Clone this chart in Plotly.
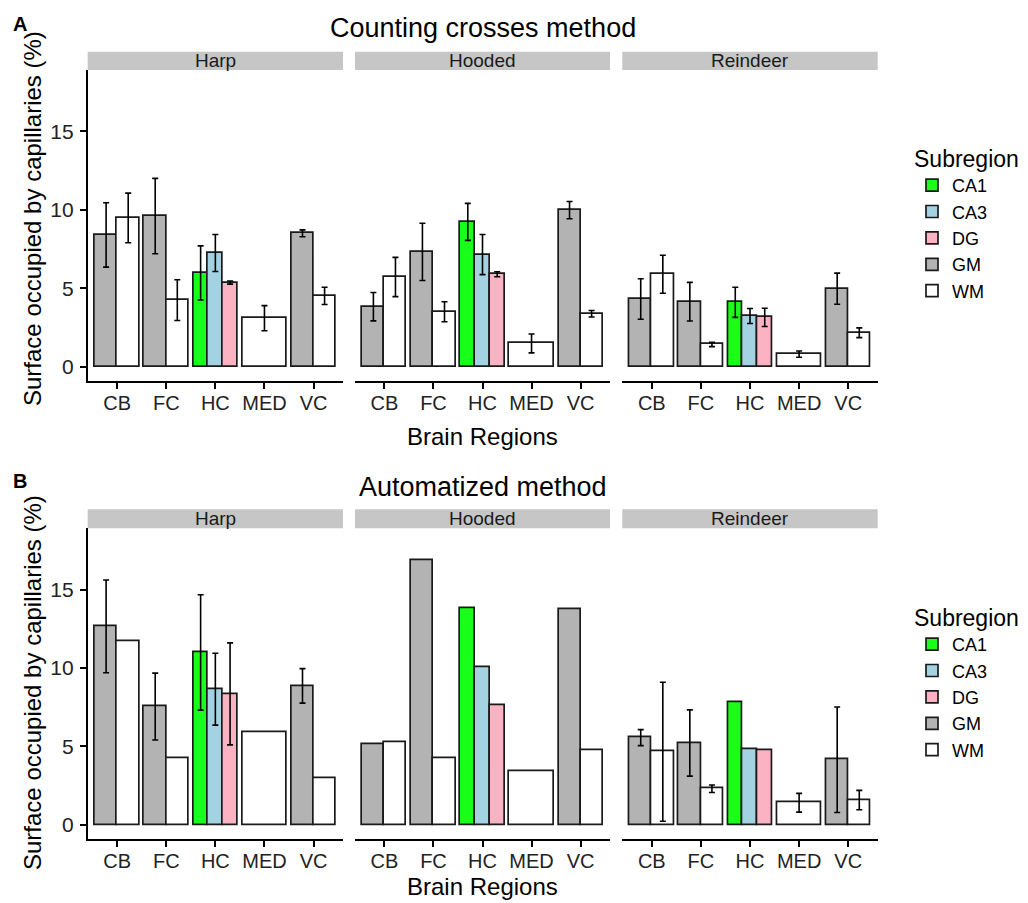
import plotly.graph_objects as go

# ---------------- data ----------------
regions = ["CB", "FC", "HC", "MED", "VC"]
species = ["Harp", "Hooded", "Reindeer"]
subregions = ["CA1", "CA3", "DG", "GM", "WM"]
methods = ["Counting crosses method", "Automatized method"]
panel_letters = ["A", "B"]

bar_region = ["CB", "CB", "FC", "FC", "HC", "HC", "HC", "MED", "VC", "VC"]
bar_subregion = ["GM", "WM", "GM", "WM", "CA1", "CA3", "DG", "WM", "GM", "WM"]

# Counting crosses method
crosses_harp_mean = [8.40, 9.48, 9.60, 4.25, 5.98, 7.25, 5.37, 3.10, 8.50, 4.52]
crosses_harp_err = [2.05, 1.58, 2.40, 1.30, 1.72, 1.18, 0.10, 0.80, 0.22, 0.55]
crosses_hooded_mean = [3.83, 5.72, 7.32, 3.51, 9.23, 7.15, 5.90, 1.49, 9.98, 3.38]
crosses_hooded_err = [0.90, 1.25, 1.82, 0.64, 1.18, 1.28, 0.16, 0.60, 0.55, 0.21]
crosses_reindeer_mean = [4.32, 5.90, 4.15, 1.43, 4.11, 3.24, 3.15, 0.81, 4.98, 2.17]
crosses_reindeer_err = [1.29, 1.21, 1.23, 0.14, 0.96, 0.48, 0.58, 0.20, 0.99, 0.31]

# Automatized method
auto_harp_mean = [12.65, 11.69, 7.54, 4.24, 10.99, 8.65, 8.35, 5.88, 8.86, 2.96]
auto_harp_err = [2.96, None, 2.13, None, 3.68, 2.29, 3.25, None, 1.10, None]
auto_hooded_mean = [5.16, 5.24, 16.87, 4.24, 13.80, 10.06, 7.63, 3.39, 13.74, 4.77]
auto_hooded_err = [None, None, None, None, None, None, None, None, None, None]
auto_reindeer_mean = [5.56, 4.66, 5.22, 2.30, 7.84, 4.82, 4.73, 1.41, 4.15, 1.58]
auto_reindeer_err = [0.51, 4.43, 2.11, 0.24, None, None, None, 0.60, 3.36, 0.62]

y_ticks = [0, 5, 10, 15]

means = [[crosses_harp_mean, crosses_hooded_mean, crosses_reindeer_mean],
         [auto_harp_mean, auto_hooded_mean, auto_reindeer_mean]]
errs = [[crosses_harp_err, crosses_hooded_err, crosses_reindeer_err],
        [auto_harp_err, auto_hooded_err, auto_reindeer_err]]

# ---------------- style ----------------
fills = {"CA1": "#1AFF1A", "CA3": "#A3D3E2", "DG": "#FBB3C3", "GM": "#B3B3B3", "WM": "#FFFFFF"}
FONT = "Liberation Sans, Arial, sans-serif"
W, H = 1028, 903
DODGE = 0.9


def fx(p):
    return p / W


def fy(p):
    return 1 - p / H


col_px = [(87.7, 343.0), (355.0, 610.0), (622.3, 877.7)]
row_px = [(70.0, 381.0), (528.3, 839.0)]
strip_px = [(51.7, 70.0), (509.3, 528.3)]

# dodge positions computed from data
bar_x, bar_w = [], []
for i, (reg, sub) in enumerate(zip(bar_region, bar_subregion)):
    group = [j for j, r in enumerate(bar_region) if r == reg]
    n = len(group)
    k = group.index(i)
    w = DODGE / n
    bar_x.append(regions.index(reg) + 1 - DODGE / 2 + w * (k + 0.5))
    bar_w.append(w)

fig = go.Figure()
layout = {}
shapes, annotations = [], []

for r in range(2):
    for c in range(3):
        idx = r * 3 + c + 1
        xn = "x" if idx == 1 else f"x{idx}"
        yn = "y" if idx == 1 else f"y{idx}"
        xkey = "xaxis" if idx == 1 else f"xaxis{idx}"
        ykey = "yaxis" if idx == 1 else f"yaxis{idx}"
        layout[xkey] = dict(
            domain=[fx(col_px[c][0]), fx(col_px[c][1])], anchor=yn,
            range=[0.4, 5.6], tickmode="array", tickvals=list(range(1, len(regions) + 1)),
            ticktext=regions, showline=True, linecolor="black", linewidth=1.8,
            ticks="outside", ticklen=6, tickwidth=1.8, tickcolor="black",
            ticklabelstandoff=-3,
            showgrid=False, zeroline=False, fixedrange=True,
            tickfont=dict(family=FONT, size=20, color="#222222"))
        ycfg = dict(domain=[fy(row_px[r][1]), fy(row_px[r][0])], anchor=xn,
                    range=[-0.9, 18.9], showgrid=False, zeroline=False, fixedrange=True)
        if c == 0:
            ycfg.update(showline=True, linecolor="black", linewidth=1.8, ticks="outside",
                        ticklen=6, tickwidth=1.8, tickcolor="black", tickmode="array",
                        ticklabelstandoff=2,
                        tickvals=y_ticks, tickfont=dict(family=FONT, size=21, color="#222222"))
        else:
            ycfg.update(showline=False, showticklabels=False, ticks="")
        layout[ykey] = ycfg

        for sub in subregions:
            ids = [i for i, s in enumerate(bar_subregion) if s == sub]
            fig.add_trace(go.Bar(
                x=[bar_x[i] for i in ids],
                y=[means[r][c][i] for i in ids],
                width=[bar_w[i] for i in ids],
                xaxis=xn, yaxis=yn,
                name=sub, legendgroup=f"{r}-{sub}",
                legend="legend" if r == 0 else "legend2",
                showlegend=(c == 0),
                marker=dict(color=fills[sub], line=dict(color="#1a1a1a", width=1.7)),
            ))

        # error bars (only where an error value exists)
        eids = [i for i in range(len(bar_region)) if errs[r][c][i] is not None]
        if eids:
            fig.add_trace(go.Scatter(
                x=[bar_x[i] for i in eids],
                y=[means[r][c][i] for i in eids],
                xaxis=xn, yaxis=yn, mode="markers",
                marker=dict(size=1, opacity=0),
                showlegend=False, hoverinfo="skip",
                error_y=dict(type="data", array=[errs[r][c][i] for i in eids], visible=True,
                             color="black", thickness=1.6, width=3),
            ))

        # facet strip
        shapes.append(dict(type="rect", xref="paper", yref="paper",
                           x0=fx(col_px[c][0]), x1=fx(col_px[c][1]),
                           y0=fy(strip_px[r][1]), y1=fy(strip_px[r][0]),
                           fillcolor="#C6C6C6", line=dict(width=0), layer="below"))
        annotations.append(dict(text=species[c], xref="paper", yref="paper",
                                x=fx((col_px[c][0] + col_px[c][1]) / 2),
                                y=fy((strip_px[r][0] + strip_px[r][1]) / 2),
                                showarrow=False, xanchor="center", yanchor="middle",
                                font=dict(family=FONT, size=19, color="#1a1a1a")))

    mid_x = (col_px[0][0] + col_px[2][1]) / 2
    title_y = [28, 487][r]
    annotations.append(dict(text=methods[r], xref="paper", yref="paper", x=fx(mid_x), y=fy(title_y),
                            showarrow=False, xanchor="center", yanchor="middle",
                            font=dict(family=FONT, size=27, color="black")))
    annotations.append(dict(text=f"<b>{panel_letters[r]}</b>", xref="paper", yref="paper",
                            x=fx(11), y=fy([24, 481][r]), showarrow=False,
                            xanchor="left", yanchor="middle",
                            font=dict(family=FONT, size=20, color="black")))
    annotations.append(dict(text="Surface occupied by capillaries (%)", xref="paper", yref="paper",
                            x=fx(32), y=fy([219, 683][r]), showarrow=False, textangle=-90,
                            xanchor="center", yanchor="middle",
                            font=dict(family=FONT, size=24, color="black")))
    annotations.append(dict(text="Brain Regions", xref="paper", yref="paper",
                            x=fx(mid_x), y=fy([436, 886][r]), showarrow=False,
                            xanchor="center", yanchor="middle",
                            font=dict(family=FONT, size=24, color="black")))

leg_common = dict(xanchor="left", yanchor="top", bgcolor="rgba(0,0,0,0)",
                  font=dict(family=FONT, size=18, color="black"),
                  title=dict(text="Subregion", font=dict(family=FONT, size=23, color="black")),
                  tracegroupgap=0, traceorder="normal")
layout["legend"] = dict(x=fx(912), y=fy(137), **leg_common)
layout["legend2"] = dict(x=fx(912), y=fy(596), **leg_common)

fig.update_layout(
    width=W, height=H, margin=dict(l=0, r=0, t=0, b=0),
    paper_bgcolor="white", plot_bgcolor="white",
    barmode="overlay", bargap=0, shapes=shapes, annotations=annotations,
    font=dict(family=FONT),
    **layout,
)

fig.write_html("out.html")
